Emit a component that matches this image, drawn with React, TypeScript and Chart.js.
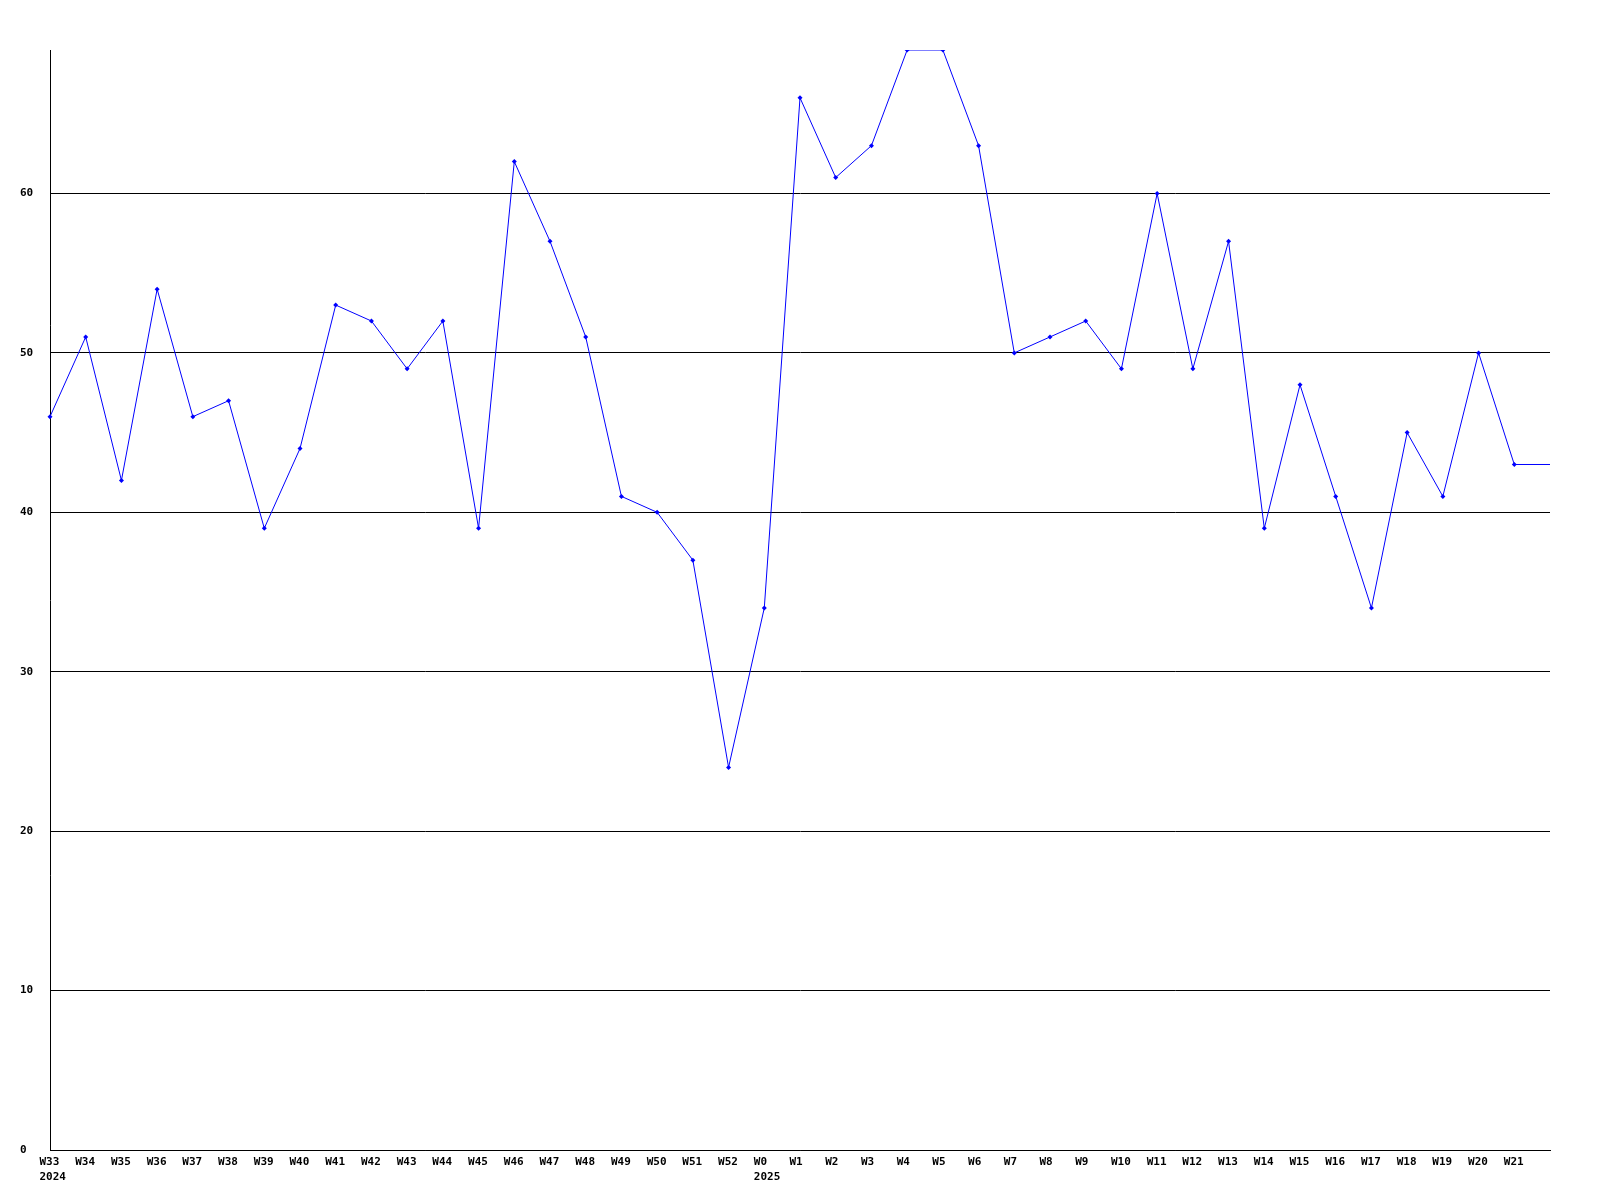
import React, { useEffect, useRef } from "react";
import { Chart, registerables } from "chart.js";

Chart.register(...registerables);

const weekLabels: (string | string[])[] = [
  ["W33", "2024"], "W34", "W35", "W36", "W37", "W38", "W39", "W40", "W41", "W42",
  "W43", "W44", "W45", "W46", "W47", "W48", "W49", "W50", "W51", "W52",
  ["W0", "2025"], "W1", "W2", "W3", "W4", "W5", "W6", "W7", "W8", "W9",
  "W10", "W11", "W12", "W13", "W14", "W15", "W16", "W17", "W18", "W19",
  "W20", "W21", "",
];

const weeklyValues: number[] = [
  46, 51, 42, 54, 46, 47, 39, 44, 53, 52,
  49, 52, 39, 62, 57, 51, 41, 40, 37, 24,
  34, 66, 61, 63, 69, 69, 63, 50, 51, 52,
  49, 60, 49, 57, 39, 48, 41, 34, 45, 41,
  50, 43, 43,
];

const yMin = 0;
const yMax = 69;
const yStep = 10;

export default function App() {
  const ref = useRef<HTMLCanvasElement | null>(null);

  useEffect(() => {
    if (!ref.current) return;
    const font = { family: "'DejaVu Sans Mono', monospace", size: 11, weight: "bold" as const, lineHeight: 1.4 };
    const radii = weeklyValues.map((_, i) => (i === weeklyValues.length - 1 ? 0 : 2.5));
    const chart = new Chart(ref.current, {
      type: "line",
      data: {
        labels: weekLabels,
        datasets: [
          {
            data: weeklyValues,
            borderColor: "#0000ff",
            backgroundColor: "#0000ff",
            borderWidth: 1,
            pointStyle: "rectRot",
            pointRadius: radii,
            pointBorderWidth: 0,
            tension: 0,
            fill: false,
          },
        ],
      },
      options: {
        animation: false,
        responsive: false,
        maintainAspectRatio: false,
        layout: { padding: { left: 20, top: 50, right: 50, bottom: 0 } },
        plugins: { legend: { display: false }, tooltip: { enabled: false } },
        scales: {
          x: {
            offset: false,
            grid: { display: false, drawTicks: false },
            border: { display: true, color: "#000000", width: 1 },
            ticks: {
              autoSkip: false,
              maxRotation: 0,
              minRotation: 0,
              color: "#000000",
              font,
              padding: 4,
              align: "start",
              labelOffset: -10.5,
            },
            afterFit: (s: any) => {
              s.height = 50;
            },
          },
          y: {
            min: yMin,
            max: yMax,
            grid: {
              color: "#000000",
              lineWidth: 1,
              drawTicks: false,
            },
            border: { display: true, color: "#000000", width: 1 },
            ticks: {
              stepSize: yStep,
              includeBounds: false,
              color: "#000000",
              font,
              crossAlign: "far",
              padding: 0,
            },
            afterFit: (s: any) => {
              s.width = 30;
            },
          },
        },
      },
    });
    return () => chart.destroy();
  }, []);

  return (
    <div style={{ position: "absolute", left: 0, top: 0, width: 1600, height: 1200, background: "#ffffff" }}>
      <canvas ref={ref} width={1600} height={1200} style={{ display: "block", width: 1600, height: 1200 }} />
    </div>
  );
}
